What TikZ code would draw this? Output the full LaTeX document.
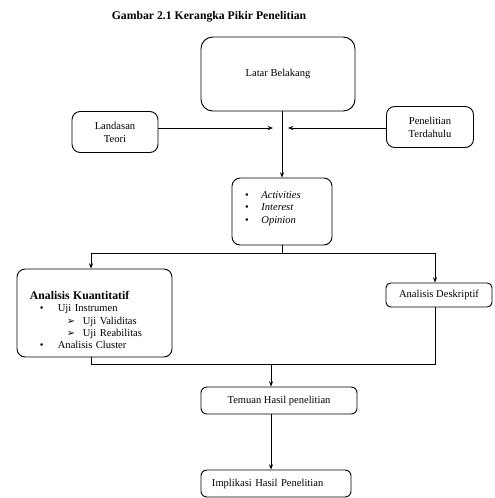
\documentclass[tikz,border=0pt]{standalone}
\usepackage{fontspec}
\setmainfont{Liberation Serif}
\newfontfamily\symfont{DejaVu Sans}
\usetikzlibrary{arrows.meta}

\begin{document}
\begin{tikzpicture}[x=0.03cm,y=-0.03cm,
    box/.style={draw,rounded corners=7pt,line width=0.8pt,font=\fontsize{9}{11}\selectfont},
    arr/.style={-{Stealth[length=4.5pt,width=3.5pt]},line width=0.8pt},
    ln/.style={line width=0.8pt}]
    \useasboundingbox (0,0) rectangle (494,498);
    % title
    \node[font=\fontsize{10}{12}\selectfont\bfseries] (judul) at (209,17) {Gambar 2.1 Kerangka Pikir Penelitian};
    % boxes
    \node[box,rounded corners=10pt,minimum width=4.62cm,minimum height=2.22cm] (latar) at (278,74) {Latar Belakang};
    \node[box,minimum width=2.58cm,minimum height=1.23cm,align=center] (landasan) at (115,132) {Landasan\\Teori};
    \node[box,minimum width=2.61cm,minimum height=1.23cm,align=center] (terdahulu) at (430,127) {Penelitian\\Terdahulu};
    \node[box,minimum width=3.0cm,minimum height=2.01cm,inner xsep=0.39cm,text width=2.22cm,align=left,font=\fontsize{9}{11}\selectfont] (aio) at (282,211.5)
        {\rule{0pt}{10pt}\makebox[14pt][l]{•}\textit{Activities}\\\makebox[14pt][l]{•}\textit{Interest}\\\makebox[14pt][l]{•}\textit{Opinion}\\\mbox{}};
    \node[box,minimum width=4.65cm,minimum height=2.64cm,inner xsep=0.39cm,text width=3.87cm,align=left,font=\fontsize{9}{10.4}\selectfont] (kuan) at (94.5,313)
        {\rule{0pt}{19pt}\textbf{\fontsize{10}{10.4}\selectfont Analisis Kuantitatif}\\
         \hspace*{8.5pt}\makebox[15.3pt][l]{•}Uji Instrumen\\
         \hspace*{31.5pt}\makebox[13.6pt][l]{\symfont\fontsize{8.5}{8}\selectfont ➢}Uji Validitas\\
         \hspace*{31.5pt}\makebox[13.6pt][l]{\symfont\fontsize{8.5}{8}\selectfont ➢}Uji Reabilitas\\
         \hspace*{8.5pt}\makebox[15.3pt][l]{•}Analisis Cluster};
    \node[box,rounded corners=4pt,minimum width=3.18cm,minimum height=0.72cm] (deskriptif) at (439,295) {Analisis Deskriptif};
    \node[box,rounded corners=5pt,minimum width=4.68cm,minimum height=0.81cm] (temuan) at (279,400.5) {Temuan Hasil penelitian};
    \node[box,rounded corners=5pt,minimum width=4.5cm,minimum height=0.81cm,inner xsep=0.33cm,text width=3.84cm,align=left] (implikasi) at (276,483.5) {Implikasi Hasil Penelitian};
    % junction points
    \coordinate (kiri) at (273,128);
    \coordinate (kanan) at (288,128);
    \coordinate (bagiL) at (91,253);
    \coordinate (bagiR) at (435,253);
    \coordinate (gabL) at (91,364);
    \coordinate (gabR) at (435,364);
    \coordinate (gabM) at (271,364);
    % connectors
    \draw[arr] (aio.north |- latar.south)--(aio.north);
    \draw[arr] (landasan.east |- kiri)--(kiri);
    \draw[arr] (terdahulu.west |- kanan)--(kanan);
    \draw[ln] (aio.south)--(aio.south |- bagiL);
    \draw[ln] (bagiL)--(bagiR);
    \draw[arr] (bagiL)--(bagiL |- kuan.north);
    \draw[arr] (bagiR)--(bagiR |- deskriptif.north);
    \draw[ln] (gabL |- kuan.south)--(gabL)--(gabR)--(gabR |- deskriptif.south);
    \draw[arr] (gabM)--(gabM |- temuan.north);
    \draw[arr] (gabM |- temuan.south)--(gabM |- implikasi.north);
\end{tikzpicture}
\end{document}
